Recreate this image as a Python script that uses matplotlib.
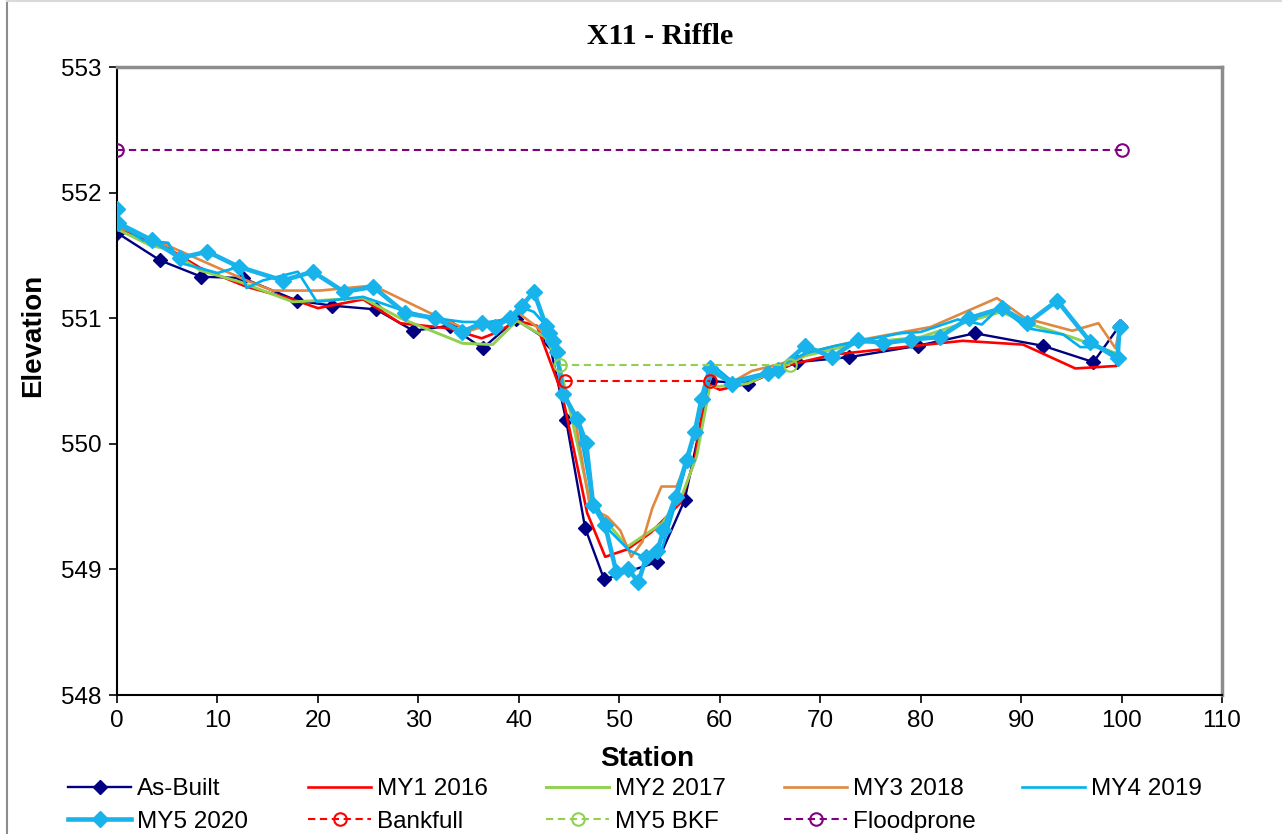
import matplotlib
matplotlib.use("Agg")
import matplotlib.pyplot as plt
from matplotlib.lines import Line2D

# ---------------- data ----------------
asbuilt_st = [0, 4.3, 8.4, 12.5, 17.9, 21.4, 25.8, 29.5, 33.1, 36.4, 39.7, 43.0, 44.7, 46.6, 48.5,
              53.8, 56.5, 59.0, 62.8, 67.7, 72.9, 79.7, 85.4, 92.2, 97.2, 99.8]
asbuilt_el = [551.68, 551.46, 551.33, 551.32, 551.14, 551.10, 551.07, 550.90, 550.94, 550.76, 550.99, 550.82,
              550.19, 549.33, 548.92, 549.06, 549.55, 550.50, 550.48, 550.65, 550.69, 550.78, 550.88,
              550.78, 550.65, 550.94]

my1_st = [0, 5, 8.3, 12.9, 17.5, 20.0, 24.5, 28.2, 33, 36.3, 37.9, 39.8, 41.8, 44.3, 46.8, 48.6, 50.8,
          53.1, 56.1, 57.5, 58.7, 60.0, 62.8, 67.0, 71.3, 80.6, 84.2, 90.2, 95.4, 99.5, 99.8]
my1_el = [551.72, 551.56, 551.40, 551.25, 551.15, 551.08, 551.15, 550.96, 550.92, 550.84, 550.89, 550.98,
          550.94, 550.40, 549.45, 549.10, 549.16, 549.29, 549.53, 549.87, 550.48, 550.43, 550.48, 550.63,
          550.71, 550.79, 550.82, 550.79, 550.60, 550.62, 550.92]

my2_st = [0, 3.3, 5, 8.3, 12.2, 17.5, 24.5, 28.2, 34.4, 37.4, 39.8, 42.6, 43.6, 44.3, 47.1, 50.8, 54.3,
          56.3, 57.7, 59.0, 62.8, 68.5, 73.8, 80, 85, 88, 91, 95, 99.5]
my2_el = [551.71, 551.58, 551.55, 551.38, 551.29, 551.13, 551.16, 551.00, 550.80, 550.79, 550.98, 550.85,
          550.70, 550.55, 549.54, 549.18, 549.37, 549.60, 549.90, 550.45, 550.48, 550.70, 550.80, 550.85,
          550.98, 551.05, 550.95, 550.85, 550.72]

my3_st = [0, 5, 12.9, 15.5, 20.2, 25.5, 31.2, 35.1, 37.1, 40.0, 41.8, 43.5, 44.6, 45.6, 47.1, 48.8, 50.1,
          51.2, 52.3, 53.3, 54.2, 55.7, 56.7, 57.7, 58.5, 59.3, 61.2, 63.2, 67.2, 68.9, 74.2, 81.0, 87.6,
          90.4, 95.1, 97.7, 99.4, 99.8]
my3_el = [551.73, 551.58, 551.30, 551.22, 551.22, 551.26, 551.04, 550.90, 550.95, 551.04, 550.93, 550.80,
          550.40, 550.20, 549.49, 549.42, 549.31, 549.10, 549.22, 549.49, 549.66, 549.66, 549.85, 550.13,
          550.40, 550.56, 550.49, 550.58, 550.66, 550.73, 550.83, 550.93, 551.16, 551.00, 550.90, 550.96,
          550.76, 550.92]

my4_st = [0, 2.6, 5.1, 6.3, 10, 12.2, 12.9, 14.5, 18, 19.9, 24.5, 28.5, 31.7, 34.5, 37.0, 39.5, 40.5,
          41.5, 42.6, 43.5, 44.3, 45.9, 47.2, 48.9, 51.0, 53.0, 54.2, 55.7, 57.2, 58.4, 59.4, 61.2, 64.8,
          68.5, 71.5, 78.0, 80.0, 83.7, 86.1, 87.9, 90.6, 94.2, 95.9, 97.9, 99.4]
my4_el = [551.76, 551.62, 551.60, 551.44, 551.36, 551.41, 551.24, 551.30, 551.37, 551.13, 551.17, 551.06,
          551.00, 550.97, 550.97, 551.00, 551.08, 551.05, 550.95, 550.85, 550.40, 550.19, 549.60, 549.32,
          549.15, 549.08, 549.15, 549.55, 549.99, 550.35, 550.62, 550.50, 550.57, 550.72, 550.78, 550.88,
          550.89, 550.99, 550.95, 551.09, 550.92, 550.87, 550.77, 550.77, 550.71]

my5_st = [0, 0.05, 3.5, 6.3, 9.0, 12.1, 16.5, 19.5, 22.6, 25.5, 28.7, 31.7, 34.3, 36.3, 37.6, 39.1, 40.3,
          41.5, 42.7, 43.0, 43.4, 43.8, 44.4, 45.8, 46.7, 47.4, 48.6, 49.7, 50.9, 51.9, 52.7, 53.8, 54.4,
          55.6, 56.7, 57.5, 58.2, 59.0, 61.2, 64.8, 65.8, 68.5, 71.2, 73.8, 76.3, 79.0, 81.9, 84.8, 88.1,
          90.6, 93.6, 96.9, 99.6, 99.8]
my5_el = [551.87, 551.76, 551.62, 551.48, 551.53, 551.41, 551.30, 551.37, 551.21, 551.25, 551.04, 551.00,
          550.89, 550.96, 550.93, 551.00, 551.10, 551.21, 550.94, 550.88, 550.82, 550.73, 550.40, 550.20,
          550.01, 549.51, 549.35, 548.98, 549.00, 548.90, 549.10, 549.15, 549.31, 549.58, 549.87, 550.09,
          550.36, 550.60, 550.48, 550.56, 550.59, 550.78, 550.69, 550.83, 550.80, 550.83, 550.85, 551.00,
          551.08, 550.96, 551.14, 550.81, 550.68, 550.93]

bkf_st = [44.6, 59.0]
bkf_el = [550.50, 550.50]
my5bkf_st = [44.1, 67.0]
my5bkf_el = [550.63, 550.63]
flood_st = [0, 100]
flood_el = [552.34, 552.34]

x_ticks = list(range(0, 111, 10))
y_ticks = [548, 549, 550, 551, 552, 553]

# ---------------- figure ----------------
plt.rcParams['font.family'] = ['Liberation Sans', 'DejaVu Sans']
W, H = 1282, 834
fig = plt.figure(figsize=(W / 100, H / 100), dpi=100)
ax = fig.add_axes([117 / W, 1 - 695 / H, (1222 - 117) / W, (695 - 67) / H])

c_ab = '#000080'
c_my1 = '#FF0000'
c_my2 = '#92D050'
c_my3 = '#E0883F'
c_my4 = '#00B0F0'
c_my5 = '#19B3EC'
c_fp = '#800080'
dash = (0, (3.5, 2.2))

ax.plot(asbuilt_st, asbuilt_el, color=c_ab, lw=1.7, marker='D', ms=7.6, label='As-Built', zorder=2)
ax.plot(my1_st, my1_el, color=c_my1, lw=1.9, label='MY1 2016', zorder=3)
ax.plot(my2_st, my2_el, color=c_my2, lw=2.1, label='MY2 2017', zorder=3)
ax.plot(my3_st, my3_el, color=c_my3, lw=1.9, label='MY3 2018', zorder=3)
ax.plot(my4_st, my4_el, color=c_my4, lw=1.9, label='MY4 2019', zorder=3)
ax.plot(my5_st, my5_el, color=c_my5, lw=3.3, marker='D', ms=8.4, label='MY5 2020', zorder=4)
ax.plot(bkf_st, bkf_el, color=c_my1, lw=1.5, ls=dash, marker='o', ms=9, mfc='none',
        mew=1.5, label='Bankfull', zorder=5)
ax.plot(my5bkf_st, my5bkf_el, color=c_my2, lw=1.5, ls=dash, marker='o', ms=9, mfc='none',
        mew=1.5, label='MY5 BKF', zorder=5)
ax.plot(flood_st, flood_el, color=c_fp, lw=1.5, ls=dash, marker='o', ms=9, mfc='none',
        mew=1.5, label='Floodprone', zorder=5)

ax.set_xlim(0, 110)
ax.set_ylim(548, 553)
ax.set_xticks(x_ticks)
ax.set_yticks(y_ticks)
ax.tick_params(axis='both', which='major', labelsize=17.5, direction='out', length=6, width=1.2,
               colors='black', pad=5)
ax.tick_params(top=False, right=False)

for s in ['left', 'bottom']:
    ax.spines[s].set_color('black')
    ax.spines[s].set_linewidth(1.5)
for s in ['top', 'right']:
    ax.spines[s].set_color('#8C8C8C')
    ax.spines[s].set_linewidth(2.5)

ax.set_xlabel('Station', fontsize=20, fontweight='bold')
ax.set_ylabel('Elevation', fontsize=20, fontweight='bold')
ax.xaxis.set_label_coords((647 - 117) / 1105, (695 - 746) / 628)
ax.yaxis.set_label_coords((46 - 117) / 1105, (695 - 335) / 628)

fig.text(660 / W, 1 - 37 / H, 'X11 - Riffle', ha='center', va='center', fontsize=21.5,
         fontweight='bold', family=['Liberation Serif', 'DejaVu Serif'])

# legend: 5 columns, filled row by row (one legend per column)
handles, labels = ax.get_legend_handles_labels()
col_x = [68, 308, 546, 784, 1022]
leg_font = 17.5
fpx = leg_font * 100 / 72
for c in range(5):
    idx = [i for i in (c, c + 5) if i < len(handles)]
    fig.legend([handles[i] for i in idx], [labels[i] for i in idx],
               loc='upper left', bbox_to_anchor=(col_x[c] / W, 1 - 778 / H),
               frameon=False, fontsize=leg_font,
               handlelength=63 / fpx, handletextpad=6 / fpx,
               labelspacing=0.45, borderaxespad=0, borderpad=0)

# outer chart border (left and top edges visible)
fig.add_artist(Line2D([6.5 / W, 6.5 / W], [0, 1], transform=fig.transFigure, color='#8C8C8C', lw=1.5))
fig.add_artist(Line2D([6.5 / W, 1], [1 - 0.5 / H, 1 - 0.5 / H], transform=fig.transFigure,
                      color='#D9D9D9', lw=1.5))

fig.savefig('out.png', dpi=100)
